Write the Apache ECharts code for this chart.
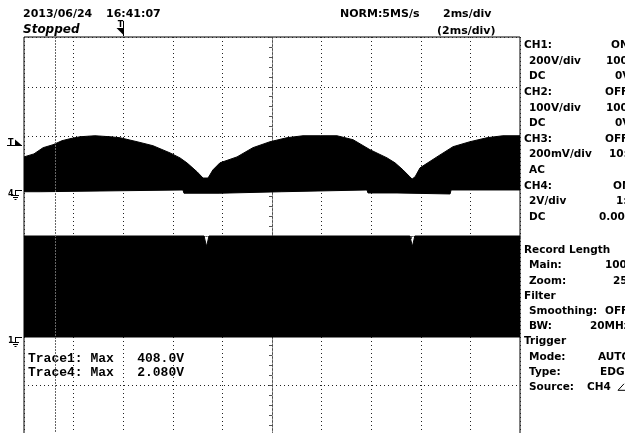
<!DOCTYPE html>
<html>
<head>
<meta charset="utf-8">
<script src="https://cdn.jsdelivr.net/npm/echarts@6.0.0/dist/echarts.min.js"></script>
<style>
html,body{margin:0;padding:0;background:#fff;overflow:hidden;}
#chart{width:625px;height:433px;}
</style>
</head>
<body>
<div id="chart"></div>
<script>
// ---------- values ----------
// time in ms from the trigger point; 2 ms/div, 10 divisions
const timeMin = -4, timeMax = 16, msPerDiv = 2;
// CH4 (2 V/div): upper envelope of the switching burst (V)
const ch4TopTime = [-4.00,-3.60,-3.23,-2.83,-2.47,-2.15,-1.74,-1.14,-0.53,-0.13,0.56,1.20,1.89,2.29,2.57,2.98,3.22,3.30,3.42,3.62,3.90,4.59,5.23,5.92,6.60,7.25,7.94,8.62,9.27,9.95,10.64,10.96,11.28,11.56,11.65,11.77,11.97,12.65,13.30,13.98,14.67,15.31,16.00];
const ch4TopVolt = [1.33,1.45,1.70,1.82,1.98,2.06,2.14,2.18,2.14,2.10,1.94,1.78,1.49,1.29,1.09,0.73,0.48,0.44,0.48,0.81,1.09,1.33,1.70,1.94,2.10,2.18,2.18,2.18,2.02,1.62,1.29,1.09,0.81,0.53,0.44,0.53,0.89,1.33,1.74,1.94,2.10,2.18,2.18];
// CH4: lower edge of the burst (V)
const ch4LowTime = [-4.00,-3.35,-3.31,2.41,2.45,3.90,3.94,6.40,6.44,9.83,9.87,11.04,11.08,13.18,13.22,16.00];
const ch4LowVolt = [-0.07,-0.07,0,0,-0.13,-0.13,-0.07,-0.07,0,0,-0.12,-0.12,-0.16,-0.16,0,0];
// CH1 (200 V/div): top of the 0..408 V switching block (V)
const ch1TopTime = [-4.00,3.26,3.36,3.46,11.56,11.66,11.76,16.00];
const ch1TopVolt = [408,408,366,408,408,366,408,408];
// channel settings: volts per division and ground offset in divisions from screen centre
const ch1VoltsPerDiv = 200, ch1OffsetDiv = -2.04;
const ch4VoltsPerDiv = 2, ch4OffsetDiv = 0.925;
const triggerTime = 0, ch4TriggerLevel = 1.8;
const cursorTime = -2.75;
// text
const headerDate = '2013/06/24', headerTime = '16:41:07', headerState = 'Stopped';
const headerRate = 'NORM:5MS/s', headerDiv = '2ms/div', headerZoomDiv = '(2ms/div)';
const traceLines = ['Trace1: Max   408.0V', 'Trace4: Max   2.080V'];
const panelLabels = ['CH1:',' 200V/div',' DC','CH2:',' 100V/div',' DC','CH3:',' 200mV/div',' AC','CH4:',' 2V/div',' DC','','Record Length',' Main:',' Zoom:','Filter',' Smoothing:',' BW:','Trigger',' Mode:',' Type:',' Source:'];
const panelValues = ['ON','100:1','0V','OFF','100:1','0V','OFF','10:1','','ON','1:1','0.00V','','','100k','25k','','OFF','20MHz','','AUTO','EDGE','CH4'];
const panelValueX = [611,606,615,605,606,615,605,609,0,613,616,599,0,0,605,613,0,605,590,0,598,600,587];

// ---------- chart ----------
const zip = (a, b) => a.map((v, i) => [v, b[i]]);
const divY = 8, divX = 10;
const ch1Min = (-divY / 2 - ch1OffsetDiv) * ch1VoltsPerDiv, ch1Max = (divY / 2 - ch1OffsetDiv) * ch1VoltsPerDiv;
const ch4Min = (-divY / 2 - ch4OffsetDiv) * ch4VoltsPerDiv, ch4Max = (divY / 2 - ch4OffsetDiv) * ch4VoltsPerDiv;
const gridDot = { color: '#222', type: [1, 3], width: 1 };
const centreLine = { color: '#666', type: [1, 1], width: 1 };
const tickStyle = { color: '#555', width: 1 };
const traceStyle = (yIdx, data, name) => ({
  type: 'line', name, xAxisIndex: 0, yAxisIndex: yIdx, data,
  symbol: 'none', showSymbol: false, silent: true, z: 3,
  lineStyle: { color: '#000', width: 1 },
  areaStyle: { color: '#000', opacity: 1 }
});

const chart = echarts.init(document.getElementById('chart'), null, { renderer: 'canvas' });
const option = {
  animation: false,
  backgroundColor: '#fff',
  grid: { left: 24, top: 37, width: 496, height: 398, show: true, borderColor: '#000', borderWidth: 1, backgroundColor: '#fff', outerBoundsMode: 'none', containLabel: false },
  xAxis: [
    { type: 'value', min: timeMin, max: timeMax, interval: msPerDiv, axisLine: { show: false }, axisTick: { show: false }, axisLabel: { show: false }, splitLine: { show: true, lineStyle: gridDot } },
    { type: 'value', min: -divX / 2, max: divX / 2, interval: 1,
      axisLine: { show: true, onZero: true, onZeroAxisIndex: 0, lineStyle: centreLine },
      axisTick: { show: true, inside: true, length: 3, lineStyle: tickStyle },
      minorTick: { show: true, splitNumber: 5, length: 3, lineStyle: tickStyle },
      axisLabel: { show: false }, splitLine: { show: false } }
  ],
  yAxis: [
    { type: 'value', min: -divY / 2, max: divY / 2, interval: 1,
      axisLine: { show: true, onZero: true, onZeroAxisIndex: 1, lineStyle: centreLine },
      axisTick: { show: true, length: 3, lineStyle: tickStyle },
      minorTick: { show: true, splitNumber: 5, length: 3, lineStyle: tickStyle },
      axisLabel: { show: false }, splitLine: { show: true, lineStyle: gridDot } },
    { type: 'value', show: false, min: ch1Min, max: ch1Max, splitLine: { show: false } },
    { type: 'value', show: false, min: ch4Min, max: ch4Max, splitLine: { show: false } },
    { type: 'value', min: -divY / 2, max: divY / 2, interval: 1,
      axisLine: { show: false, onZero: true, onZeroAxisIndex: 1 },
      axisTick: { show: true, inside: true, length: 3, lineStyle: tickStyle },
      minorTick: { show: true, splitNumber: 5, length: 3, lineStyle: tickStyle },
      axisLabel: { show: false }, splitLine: { show: false } }
  ],
  series: [
    traceStyle(2, zip(ch4TopTime, ch4TopVolt), 'CH4'),
    traceStyle(2, zip(ch4LowTime, ch4LowVolt), 'CH4 low'),
    traceStyle(1, zip(ch1TopTime, ch1TopVolt), 'CH1'),
    { type: 'line', name: 'cursor', xAxisIndex: 0, yAxisIndex: 0, data: [[timeMin, 0]], symbol: 'none', z: 1, silent: true,
      lineStyle: { opacity: 0 },
      markLine: { silent: true, symbol: 'none', label: { show: false }, animation: false,
        lineStyle: { color: '#666', type: [2, 1], width: 1 }, data: [{ xAxis: cursorTime }] } }
  ]
};
chart.setOption(option);

// ---------- annotations placed through the axes ----------
const FONT = "'DejaVu Sans', sans-serif";
function px(yIdx, t, v) { return chart.convertToPixel({ xAxisIndex: 0, yAxisIndex: yIdx }, [t, v]); }
function txt(x, y, text, font, align) {
  return { type: 'text', x, y, silent: true, style: { text, font, fill: '#000', align: align || 'left', textAlign: align || 'left', verticalAlign: 'middle', textVerticalAlign: 'middle' } };
}
function line(points, color) {
  return { type: 'polyline', silent: true, shape: { points }, style: { stroke: color || '#000', lineWidth: 1, fill: null } };
}
const g = [];
// ground markers
[[1, '1'], [2, '4']].forEach(([yIdx, label]) => {
  const p = px(yIdx, timeMin, 0);
  const x = Math.round(p[0]), y = Math.round(p[1]) + 0.5;
  g.push(txt(x - 16, y + 3, label, 'bold 8px ' + FONT));
  g.push(line([[x - 9, y], [x - 2, y]]));
  g.push(line([[x - 8.5, y], [x - 8.5, y + 5]]));
  g.push(line([[x - 12, y + 5], [x - 5, y + 5]]));
  g.push(line([[x - 11, y + 7], [x - 6, y + 7]]));
  g.push(line([[x - 9.5, y + 9], [x - 7.5, y + 9]]));
});
// trigger level marker (left)
(function () {
  const p = px(2, timeMin, ch4TriggerLevel);
  const x = Math.round(p[0]), y = Math.round(p[1]) + 0.5;
  g.push(txt(x - 16, y - 3, 'T', 'bold 8px ' + FONT));
  g.push(line([[x - 17, y], [x - 2, y]]));
  g.push({ type: 'polygon', silent: true, shape: { points: [[x - 9, y - 6], [x - 9, y], [x - 2, y]] }, style: { fill: '#000' } });
})();
// trigger position marker (top)
(function () {
  const p = px(2, triggerTime, 0);
  const x = Math.round(p[0]) + 0.5;
  g.push(txt(x - 3, 25, 'T', 'bold 8px ' + FONT, 'center'));
  g.push(line([[x, 21], [x, 36]]));
  g.push({ type: 'polygon', silent: true, shape: { points: [[x - 7, 28], [x, 28], [x, 35]] }, style: { fill: '#000' } });
})();
// header
g.push(txt(23, 14.5, headerDate, 'bold 11px ' + FONT));
g.push(txt(106, 14.5, headerTime, 'bold 11px ' + FONT));
g.push(txt(23, 30, headerState, 'italic bold 12px ' + FONT));
g.push(txt(340, 14.5, headerRate, 'bold 11px ' + FONT));
g.push(txt(443, 14.5, headerDiv, 'bold 11px ' + FONT));
g.push(txt(437, 31, headerZoomDiv, 'bold 11px ' + FONT));
// trace readouts
traceLines.forEach((s, i) => g.push(txt(28, 359 + i * 14, s, "bold 13px 'Liberation Mono', monospace")));
// side panel
const PANEL_FONT = 'bold 10.5px ' + FONT;
panelLabels.forEach((s, i) => {
  const y = i <= 11 ? 45.5 + i * 15.6 : 250.5 + (i - 13) * 15.2;
  if (s) {
    const indent = s.startsWith(' ');
    g.push(txt(indent ? 529 : 524, y, s.trim(), PANEL_FONT));
  }
  if (panelValues[i]) g.push(txt(panelValueX[i], y, panelValues[i], PANEL_FONT));
  if (s === ' Source:') {
    g.push(line([[624, y - 3.5], [618, y + 3], [625, y + 3]]));
  }
});
chart.setOption({ graphic: { elements: g } });
</script>
</body>
</html>
